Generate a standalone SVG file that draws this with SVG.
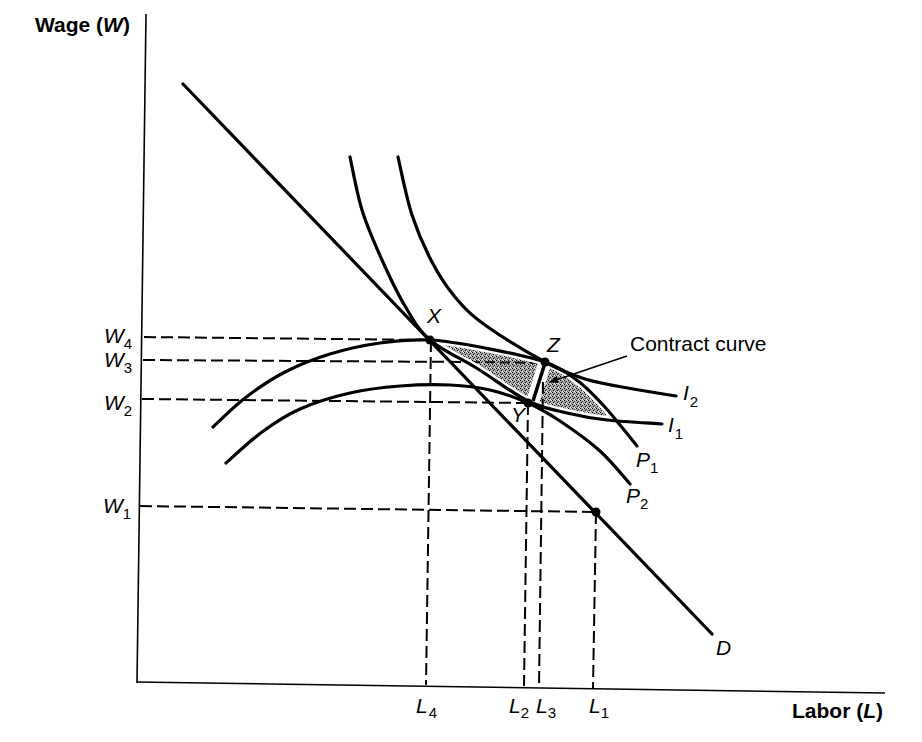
<svg xmlns="http://www.w3.org/2000/svg" width="922" height="742" viewBox="0 0 922 742">
<style>
.ax{stroke:#000;stroke-width:1.6;fill:none}
.dash{stroke:#000;stroke-width:2;stroke-dasharray:12 5;fill:none}
.cv{stroke:#000;stroke-width:3.2;fill:none;stroke-linecap:round}
.halo{stroke:#fff;stroke-width:8;fill:none}
.lbl{font-family:"Liberation Sans",Arial,sans-serif;font-style:italic;font-size:21px;fill:#000}
.sub{font-style:normal;font-size:15px}
.ttl{font-family:"Liberation Sans",Arial,sans-serif;font-weight:bold;font-size:21px;fill:#000}
.txt{font-family:"Liberation Sans",Arial,sans-serif;font-size:21px;fill:#000}
.dot{fill:#000}
</style>
<defs>
<pattern id="stip" width="4" height="4" patternUnits="userSpaceOnUse">
<rect width="4" height="4" fill="#a6a6a6"/>
<rect x="0" y="0" width="1" height="1" fill="#000"/>
<rect x="2" y="1" width="1" height="1" fill="#333"/>
<rect x="1" y="2" width="1" height="1" fill="#111"/>
<rect x="3" y="3" width="1" height="1" fill="#555"/>
<rect x="2" y="3" width="1" height="1" fill="#fff"/>
<rect x="3" y="0" width="1" height="1" fill="#ddd"/>
</pattern>
<path id="P1" d="M213,427 C218.3,422.2 233,407.2 245,398 C257,388.8 270.8,379.3 285,372 C299.2,364.7 314.2,358.8 330,354 C345.8,349.2 363.3,345.3 380,343 C396.7,340.7 412.5,339.2 430,340 C447.5,340.8 465.8,344.3 485,348 C504.2,351.7 529.5,356.5 545,362 C560.5,367.5 568.3,373.8 578,381 C587.7,388.2 596,397.7 603,405 C610,412.3 614.3,418.2 620,425 C625.7,431.8 634.2,442.5 637,446"/>
<path id="I1" d="M350,157 C352,165.8 356.7,192.8 362,210 C367.3,227.2 374.8,244 382,260 C389.2,276 397,292.7 405,306 C413,319.3 417.8,329.5 430,340 C442.2,350.5 461.7,358.8 478,369 C494.3,379.2 513.2,393.7 528,401 C542.8,408.3 553.8,409.8 567,413 C580.2,416.2 591.2,418.2 607,420 C622.8,421.8 652.8,423.3 662,424"/>
<clipPath id="belowP1">
<path d="M213,427 C218.3,422.2 233,407.2 245,398 C257,388.8 270.8,379.3 285,372 C299.2,364.7 314.2,358.8 330,354 C345.8,349.2 363.3,345.3 380,343 C396.7,340.7 412.5,339.2 430,340 C447.5,340.8 465.8,344.3 485,348 C504.2,351.7 529.5,356.5 545,362 C560.5,367.5 568.3,373.8 578,381 C587.7,388.2 596,397.7 603,405 C610,412.3 614.3,418.2 620,425 C625.7,431.8 634.2,442.5 637,446 L637,700 L213,700 Z"/>
</clipPath>
<clipPath id="aboveI1">
<path d="M350,157 C352,165.8 356.7,192.8 362,210 C367.3,227.2 374.8,244 382,260 C389.2,276 397,292.7 405,306 C413,319.3 417.8,329.5 430,340 C442.2,350.5 461.7,358.8 478,369 C494.3,379.2 513.2,393.7 528,401 C542.8,408.3 553.8,409.8 567,413 C580.2,416.2 591.2,418.2 607,420 C622.8,421.8 652.8,423.3 662,424 L662,100 L350,100 Z"/>
</clipPath>
<marker id="ah" viewBox="0 0 10 10" refX="9" refY="5" markerWidth="9" markerHeight="9" orient="auto" markerUnits="userSpaceOnUse">
<path d="M0,1 L10,5 L0,9 Z" fill="#000"/>
</marker>
</defs>
<rect width="922" height="742" fill="#fff"/>

<g id="axes">
<line class="ax" x1="146" y1="14" x2="137" y2="683"/>
<line class="ax" x1="137" y1="682" x2="885" y2="693"/>
<text class="ttl" x="35" y="32">Wage (<tspan font-style="italic">W</tspan>)</text>
<text class="ttl" x="792" y="718">Labor (<tspan font-style="italic">L</tspan>)</text>
</g>

<g id="guides">
<line class="dash" x1="144" y1="337" x2="430" y2="340"/>
<line class="dash" x1="143" y1="360" x2="470" y2="362"/>
<line class="dash" x1="142" y1="399" x2="528" y2="403"/>
<line class="dash" x1="140" y1="506" x2="596" y2="512"/>
<line class="dash" x1="431" y1="340" x2="426" y2="685"/>
<line class="dash" x1="528" y1="403" x2="524" y2="686"/>
<line class="dash" x1="596" y1="512" x2="593" y2="688"/>
</g>

<g id="lens" clip-path="url(#belowP1)">
<g clip-path="url(#aboveI1)">
<rect x="400" y="320" width="260" height="120" fill="url(#stip)"/>
<line x1="470" y1="362" x2="545" y2="363" stroke="#000" stroke-width="2" stroke-dasharray="10 5"/>
<use href="#P1" class="halo"/>
<use href="#I1" class="halo"/>
<line x1="547" y1="356" x2="530" y2="410" stroke="#fff" stroke-width="13"/>
</g>
</g>

<g id="L3guide">
<line class="dash" x1="543" y1="382" x2="539" y2="687"/>
</g>

<g id="curves">
<path id="I2" class="cv" d="M398,157 C400.3,166.7 406.3,197.5 412,215 C417.7,232.5 424.8,248.3 432,262 C439.2,275.7 446.2,286.5 455,297 C463.8,307.5 470,314.2 485,325 C500,335.8 528.3,353 545,362 C561.7,371 570.3,374.5 585,379 C599.7,383.5 617.8,386.2 633,389 C648.2,391.8 668.8,394.8 676,396"/>
<use href="#I1" class="cv"/>
<use href="#P1" class="cv"/>
<path id="P2" class="cv" d="M226,463 C232,457.8 249.7,441 262,432 C274.3,423 285.3,415.5 300,409 C314.7,402.5 333.3,396.8 350,393 C366.7,389.2 383.3,387.3 400,386 C416.7,384.7 435,384.3 450,385 C465,385.7 477,387 490,390 C503,393 516.3,397.8 528,403 C539.7,408.2 548,413 560,421 C572,429 588.3,440.5 600,451 C611.7,461.5 625,478.5 630,484"/>
<line id="D" class="cv" x1="183" y1="84" x2="712" y2="634"/>
<line id="contract" x1="545" y1="363" x2="533" y2="401" stroke="#000" stroke-width="3.5"/>
</g>

<g id="points">
<circle class="dot" cx="430" cy="340" r="4.5"/>
<circle class="dot" cx="545" cy="362" r="4.5"/>
<circle class="dot" cx="528" cy="403" r="4.5"/>
<circle class="dot" cx="596" cy="512" r="4.5"/>
</g>

<g id="pointer">
<line x1="627" y1="356" x2="550" y2="382" stroke="#000" stroke-width="1.8" marker-end="url(#ah)"/>
<text class="txt" x="630" y="351">Contract curve</text>
</g>

<g id="labels">
<text class="lbl" x="104" y="343">W<tspan class="sub" dy="6">4</tspan></text>
<text class="lbl" x="104" y="367">W<tspan class="sub" dy="6">3</tspan></text>
<text class="lbl" x="104" y="410">W<tspan class="sub" dy="6">2</tspan></text>
<text class="lbl" x="103" y="513">W<tspan class="sub" dy="6">1</tspan></text>
<text class="lbl" x="416" y="713">L<tspan class="sub" dx="1" dy="5">4</tspan></text>
<text class="lbl" x="509" y="713">L<tspan class="sub" dy="5">2</tspan></text>
<text class="lbl" x="536" y="713">L<tspan class="sub" dy="5">3</tspan></text>
<text class="lbl" x="589" y="713">L<tspan class="sub" dy="5">1</tspan></text>
<text class="lbl" x="427" y="323">X</text>
<text class="lbl" x="547" y="352">Z</text>
<text class="lbl" x="511" y="422">Y</text>
<text class="lbl" x="716" y="655">D</text>
<text class="lbl" x="683" y="400">I<tspan class="sub" dx="1" dy="7">2</tspan></text>
<text class="lbl" x="668" y="432">I<tspan class="sub" dx="1" dy="7">1</tspan></text>
<text class="lbl" x="636" y="467">P<tspan class="sub" dy="6">1</tspan></text>
<text class="lbl" x="626" y="503">P<tspan class="sub" dy="6">2</tspan></text>
</g>
</svg>
